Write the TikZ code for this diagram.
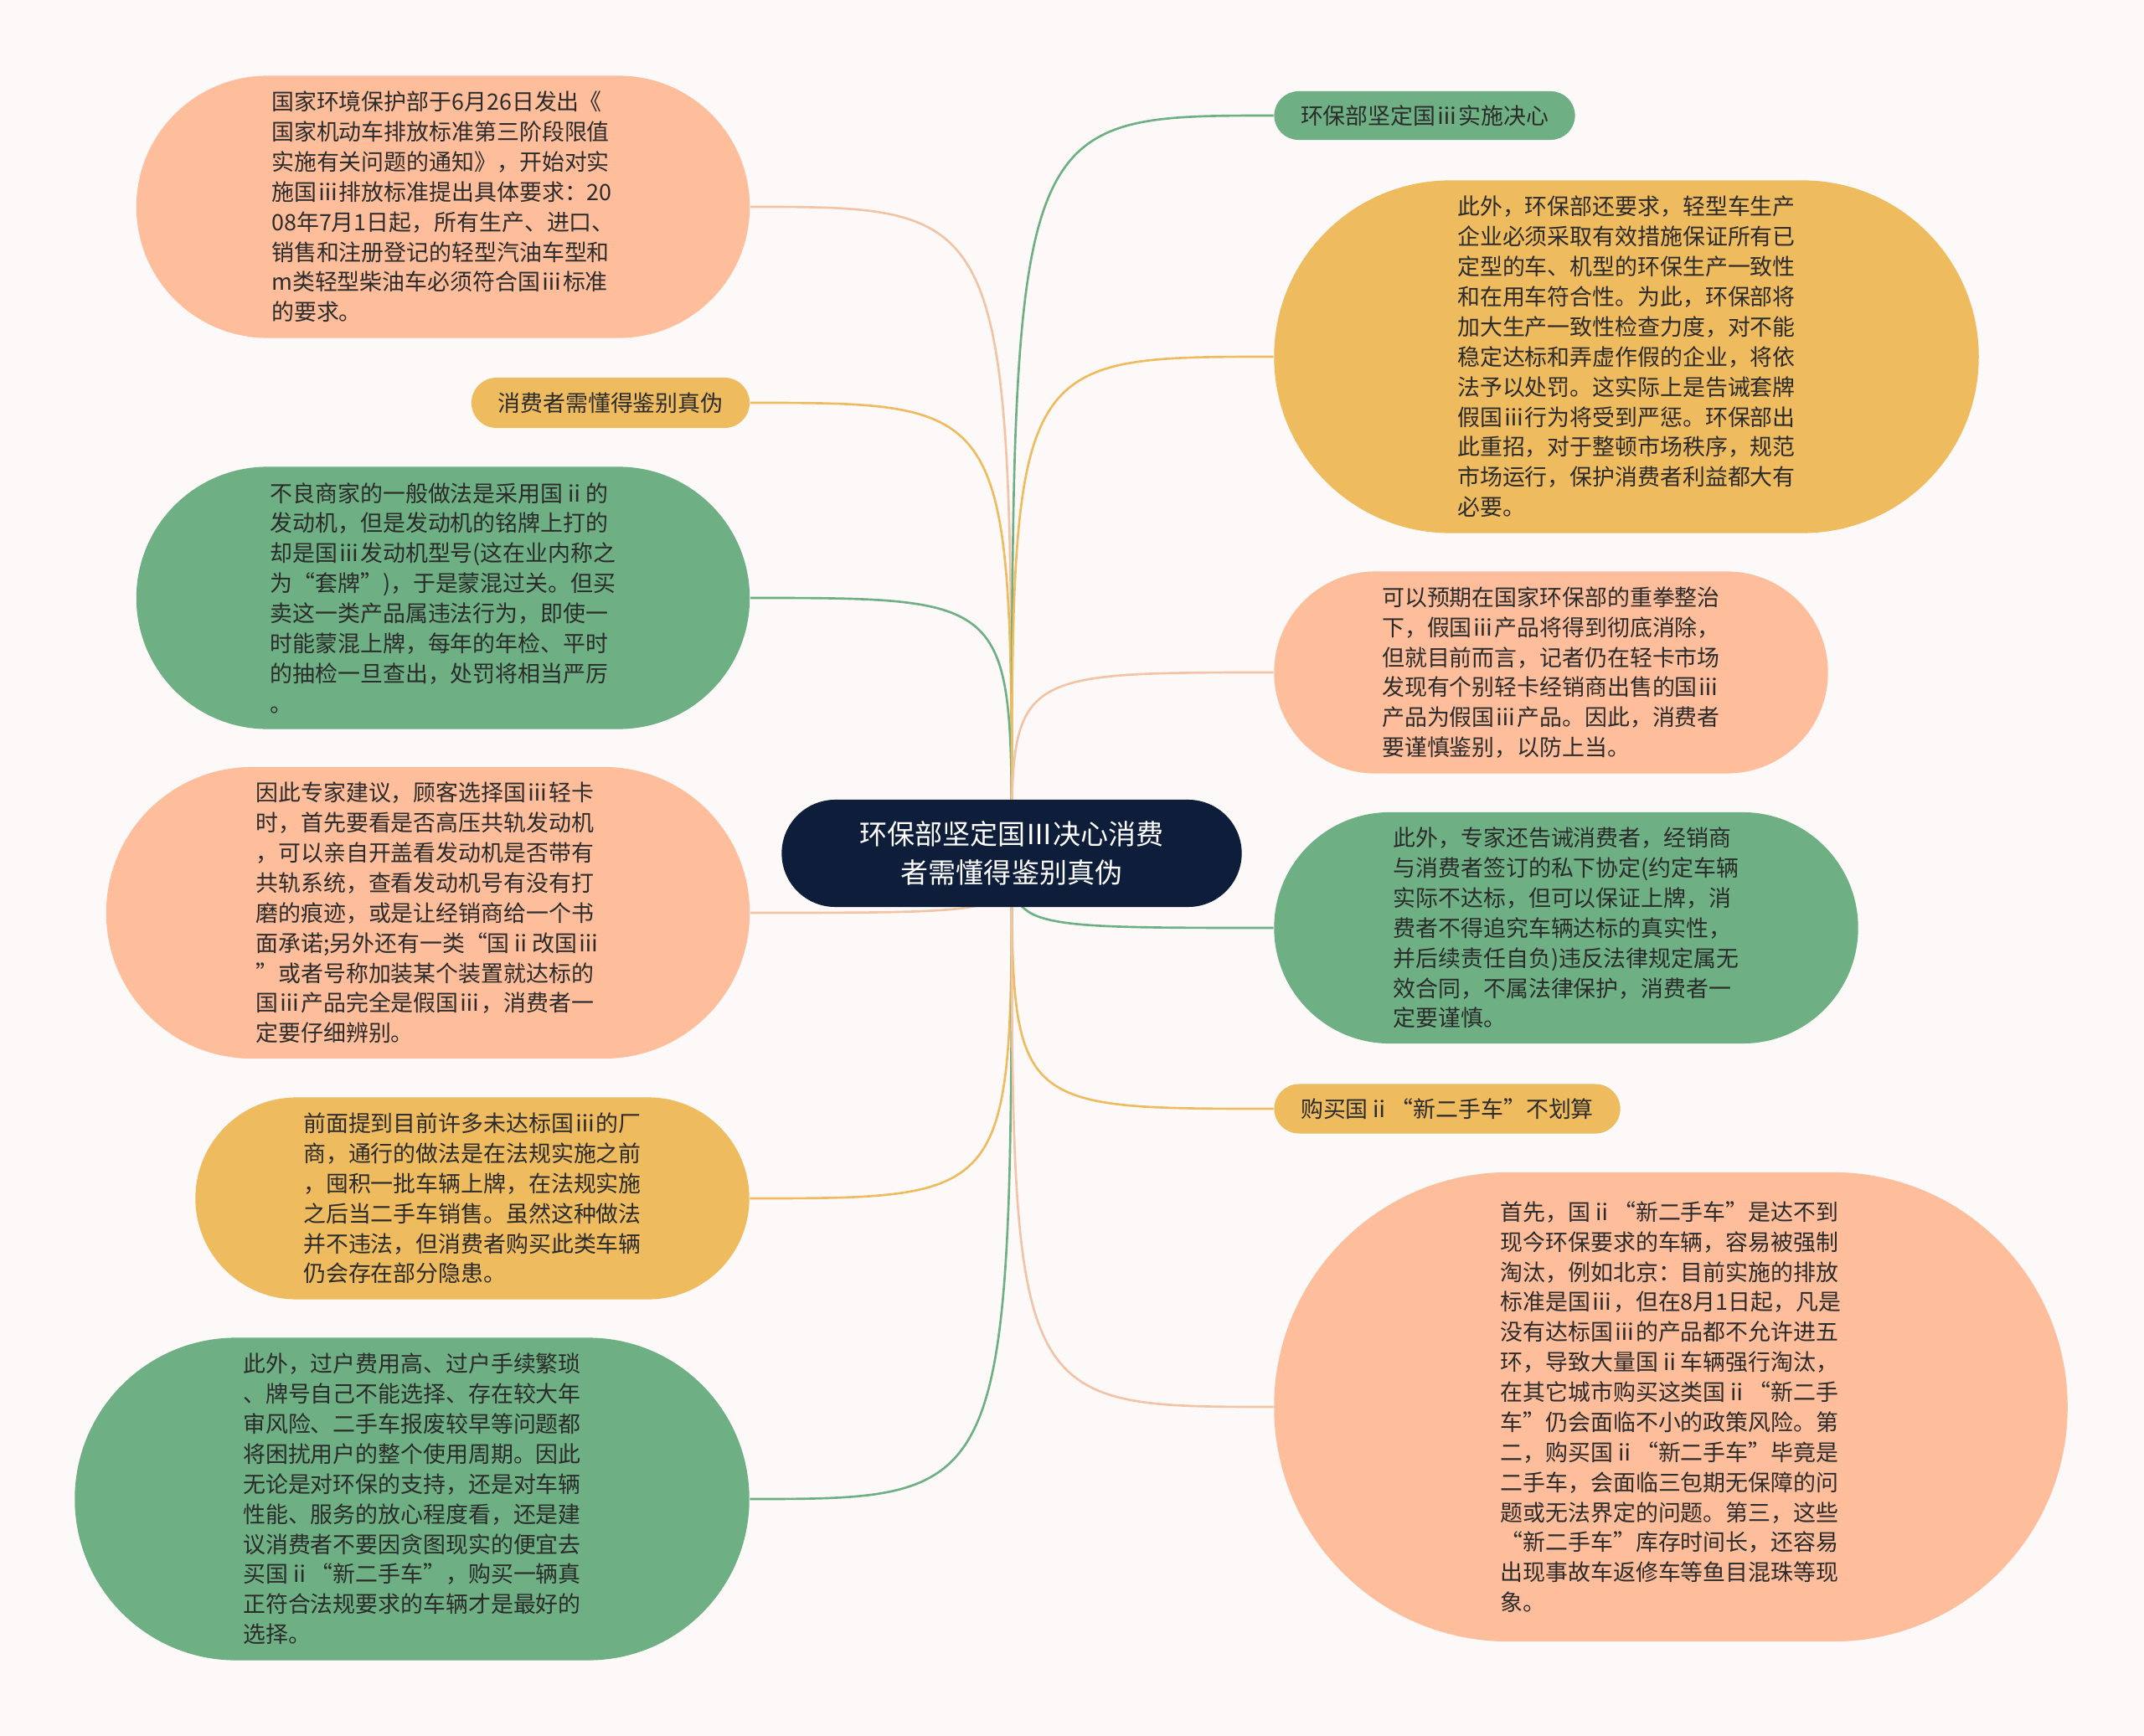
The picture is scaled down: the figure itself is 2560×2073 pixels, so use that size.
\documentclass[tikz,border=0pt]{standalone}
\usepackage{fontspec}
\setmainfont{Noto Sans CJK SC}
\usepackage{xcolor}
\usepackage{tikz}
\usetikzlibrary{shapes.misc}

\definecolor{pagebg}{HTML}{FDF9F8}
\definecolor{rootblue}{HTML}{0E1E3A}
\definecolor{peach}{HTML}{FFBE9B}
\definecolor{leaf}{HTML}{6EAF84}
\definecolor{gold}{HTML}{EFBB5F}
\definecolor{peachline}{HTML}{F3C3A5}
\definecolor{inkdark}{HTML}{2B2B2B}

\pgfdeclarelayer{back}
\pgfdeclarelayer{links}
\pgfsetlayers{back,links,main}

\tikzset{
  pill/.style={rounded rectangle, inner sep=0pt, text=inkdark, align=left,
    font=\fontsize{7.65}{10.2}\selectfont},
  peachbox/.style={pill, fill=peach},
  leafbox/.style={pill, fill=leaf},
  goldbox/.style={pill, fill=gold},
  link/.style={line width=0.75pt},
}

\begin{document}
\begin{tikzpicture}[x=0.01cm, y=-0.01cm]
        \useasboundingbox (0,0) rectangle (2560,2073);
        \begin{pgfonlayer}{back}
            \fill[pagebg] (0,0) rectangle (2560,2073);
        \end{pgfonlayer}

        % Root
        \node[rounded rectangle, fill=rootblue, text=white, align=center,
              minimum width=5.49cm, minimum height=1.28cm, inner sep=0pt,
              font=\fontsize{9.4}{13}\selectfont] (root) at (1208,1019)
              {环保部坚定国Ⅲ决心消费\\者需懂得鉴别真伪};

        % Left side
        \node[peachbox, minimum width=7.32cm, minimum height=3.13cm] (l1) at (529,247)
            {国家环境保护部于6月26日发出《\\国家机动车排放标准第三阶段限值\\实施有关问题的通知》，开始对实\\施国ⅲ排放标准提出具体要求：20\\08年7月1日起，所有生产、进口、\\销售和注册登记的轻型汽油车型和\\m类轻型柴油车必须符合国ⅲ标准\\的要求。};
        \node[goldbox, minimum width=3.32cm, minimum height=0.6cm] (l2) at (729,481)
            {消费者需懂得鉴别真伪};
        \node[leafbox, minimum width=7.32cm, minimum height=3.13cm] (l3) at (529,714)
            {不良商家的一般做法是采用国ⅱ的\\发动机，但是发动机的铭牌上打的\\却是国ⅲ发动机型号(这在业内称之\\为“套牌”)，于是蒙混过关。但买\\卖这一类产品属违法行为，即使一\\时能蒙混上牌，每年的年检、平时\\的抽检一旦查出，处罚将相当严厉\\。};
        \node[peachbox, minimum width=7.68cm, minimum height=3.48cm] (l4) at (511,1090)
            {因此专家建议，顾客选择国ⅲ轻卡\\时，首先要看是否高压共轨发动机\\，可以亲自开盖看发动机是否带有\\共轨系统，查看发动机号有没有打\\磨的痕迹，或是让经销商给一个书\\面承诺;另外还有一类“国ⅱ改国ⅲ\\”或者号称加装某个装置就达标的\\国ⅲ产品完全是假国ⅲ，消费者一\\定要仔细辨别。};
        \node[goldbox, minimum width=6.61cm, minimum height=2.41cm] (l5) at (564,1431)
            {前面提到目前许多未达标国ⅲ的厂\\商，通行的做法是在法规实施之前\\，囤积一批车辆上牌，在法规实施\\之后当二手车销售。虽然这种做法\\并不违法，但消费者购买此类车辆\\仍会存在部分隐患。};
        \node[leafbox, minimum width=8.05cm, minimum height=3.85cm] (l6) at (492,1790)
            {此外，过户费用高、过户手续繁琐\\、牌号自己不能选择、存在较大年\\审风险、二手车报废较早等问题都\\将困扰用户的整个使用周期。因此\\无论是对环保的支持，还是对车辆\\性能、服务的放心程度看，还是建\\议消费者不要因贪图现实的便宜去\\买国ⅱ“新二手车”，购买一辆真\\正符合法规要求的车辆才是最好的\\选择。};

        % Right side
        \node[leafbox, minimum width=3.59cm, minimum height=0.58cm] (r1) at (1701,138)
            {环保部坚定国ⅲ实施决心};
        \node[goldbox, minimum width=8.41cm, minimum height=4.21cm] (r2) at (1942,426)
            {此外，环保部还要求，轻型车生产\\企业必须采取有效措施保证所有已\\定型的车、机型的环保生产一致性\\和在用车符合性。为此，环保部将\\加大生产一致性检查力度，对不能\\稳定达标和弄虚作假的企业，将依\\法予以处罚。这实际上是告诫套牌\\假国ⅲ行为将受到严惩。环保部出\\此重招，对于整顿市场秩序，规范\\市场运行，保护消费者利益都大有\\必要。};
        \node[peachbox, minimum width=6.61cm, minimum height=2.41cm] (r3) at (1852,803)
            {可以预期在国家环保部的重拳整治\\下，假国ⅲ产品将得到彻底消除，\\但就目前而言，记者仍在轻卡市场\\发现有个别轻卡经销商出售的国ⅲ\\产品为假国ⅲ产品。因此，消费者\\要谨慎鉴别，以防上当。};
        \node[leafbox, minimum width=6.97cm, minimum height=2.76cm] (r4) at (1870,1108)
            {此外，专家还告诫消费者，经销商\\与消费者签订的私下协定(约定车辆\\实际不达标，但可以保证上牌，消\\费者不得追究车辆达标的真实性，\\并后续责任自负)违反法律规定属无\\效合同，不属法律保护，消费者一\\定要谨慎。};
        \node[goldbox, minimum width=4.13cm, minimum height=0.59cm] (r5) at (1728,1324)
            {购买国ⅱ“新二手车”不划算};
        \node[peachbox, minimum width=9.47cm, minimum height=5.6cm] (r6) at (1995,1680)
            {首先，国ⅱ“新二手车”是达不到\\现今环保要求的车辆，容易被强制\\淘汰，例如北京：目前实施的排放\\标准是国ⅲ，但在8月1日起，凡是\\没有达标国ⅲ的产品都不允许进五\\环，导致大量国ⅱ车辆强行淘汰，\\在其它城市购买这类国ⅱ“新二手\\车”仍会面临不小的政策风险。第\\二，购买国ⅱ“新二手车”毕竟是\\二手车，会面临三包期无保障的问\\题或无法界定的问题。第三，这些\\“新二手车”库存时间长，还容易\\出现事故车返修车等鱼目混珠等现\\象。};

        % Links
        \begin{pgfonlayer}{links}
            \foreach \n/\c in {l1/peachline, l2/gold, l3/leaf, l4/peachline, l5/gold, l6/leaf}
                \draw[link, \c] (root.center) .. controls (root.center |- \n.east) .. (\n.east);
            \foreach \n/\c in {r1/leaf, r2/gold, r3/peachline, r4/leaf, r5/gold, r6/peachline}
                \draw[link, \c] (root.center) .. controls (root.center |- \n.west) .. (\n.west);
        \end{pgfonlayer}
    \end{tikzpicture}
\end{document}
